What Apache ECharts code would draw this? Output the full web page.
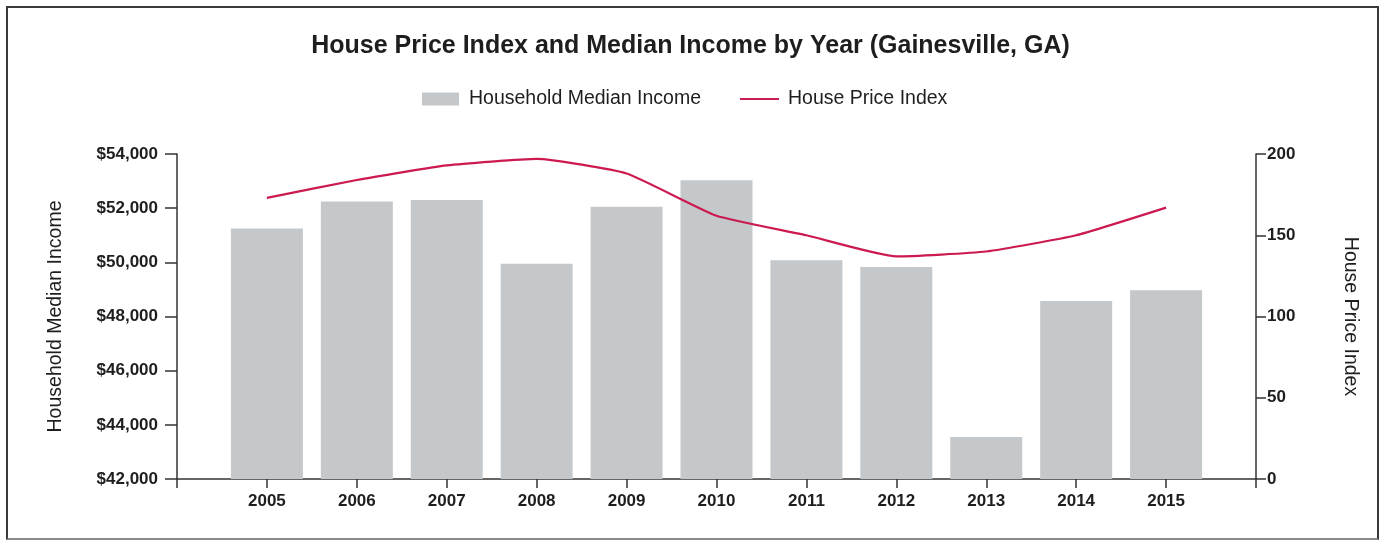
<!DOCTYPE html>
<html>
<head>
<meta charset="utf-8">
<title>House Price Index and Median Income by Year</title>
<script src="https://cdn.jsdelivr.net/npm/echarts@6/dist/echarts.min.js"></script>
<style>
  html, body { margin: 0; padding: 0; background: #fff; }
  #wrap { position: relative; width: 1381px; height: 540px; overflow: hidden; }
  #frame { position: absolute; left: 6px; top: 6px; width: 1373px; height: 534px;
           border: 2px solid #3a3a3a; border-bottom-color: #8a8a8a; box-sizing: border-box; }
  #chart { position: absolute; left: 0; top: 0; width: 1381px; height: 540px; }
</style>
</head>
<body>
<div id="wrap">
  <div id="frame"></div>
  <div id="chart"></div>
</div>
<script>
// Years shown on the x axis
const years = [2005, 2006, 2007, 2008, 2009, 2010, 2011, 2012, 2013, 2014, 2015];
// Household median income, US dollars
const medianIncome = [51250, 52250, 52300, 49950, 52050, 53030, 50080, 49830, 43550, 48570, 48970];
// House price index
const housePriceIndex = [173, 184, 193, 197, 188, 162, 150, 137, 140, 150, 167];

const incomeTicks = { min: 42000, max: 54000, step: 2000 };
const hpiTicks = { min: 0, max: 200, step: 50 };

const FONT = '"Liberation Sans", Arial, Helvetica, sans-serif';
const TEXT_COLOR = '#1e1e1e';
const AXIS_COLOR = '#333';
const BAR_COLOR = '#c4c8cb';
const LINE_COLOR = '#cc1a50';

const chart = echarts.init(document.getElementById('chart'), null, { renderer: 'canvas' });

const money = v => '$' + v.toLocaleString('en-US');
const axisLine = { show: true, lineStyle: { color: AXIS_COLOR, width: 1.5 } };
const tickStyle = { color: AXIS_COLOR, width: 1.5 };

chart.setOption({
  animation: false,
  backgroundColor: 'transparent',
  textStyle: { fontFamily: FONT },
  title: {
    text: 'House Price Index and Median Income by Year (Gainesville, GA)',
    left: 'center',
    top: 29,
    textStyle: { fontFamily: FONT, fontSize: 25, fontWeight: 'bold', color: TEXT_COLOR }
  },
  legend: [
    {
      left: 417,
      top: 84,
      itemWidth: 37,
      itemHeight: 13,
      icon: 'rect',
      textStyle: { fontFamily: FONT, fontSize: 19.5, color: TEXT_COLOR, padding: [0, 0, 0, 5] },
      data: ['Household Median Income']
    },
    {
      left: 735,
      top: 84,
      itemWidth: 39,
      itemHeight: 2,
      icon: 'rect',
      textStyle: { fontFamily: FONT, fontSize: 19.5, color: TEXT_COLOR, padding: [0, 0, 0, 4] },
      data: ['House Price Index']
    }
  ],
  grid: { left: 177, right: 125, top: 154, bottom: 61 },
  xAxis: {
    type: 'value',
    min: years[0] - 1,
    max: years[years.length - 1] + 1,
    interval: 1,
    splitLine: { show: false },
    axisLine: axisLine,
    axisTick: { show: true, length: 9, lineStyle: tickStyle },
    axisLabel: {
      margin: 14,
      fontFamily: FONT, fontSize: 17, fontWeight: 'bold', color: TEXT_COLOR,
      formatter: v => (years.indexOf(v) >= 0 ? String(v) : '')
    }
  },
  yAxis: [
    {
      type: 'value',
      name: 'Household Median Income',
      nameLocation: 'middle',
      nameGap: 111,
      nameTextStyle: { fontFamily: FONT, fontSize: 19.5, color: TEXT_COLOR },
      min: incomeTicks.min,
      max: incomeTicks.max,
      interval: incomeTicks.step,
      splitLine: { show: false },
      axisLine: axisLine,
      axisTick: { show: true, length: 12, lineStyle: tickStyle },
      axisLabel: {
        margin: 19,
        fontFamily: FONT, fontSize: 17, fontWeight: 'bold', color: TEXT_COLOR,
        formatter: money
      }
    },
    {
      type: 'value',
      name: 'House Price Index',
      nameLocation: 'middle',
      nameGap: 84,
      nameRotate: -90,
      nameTextStyle: { fontFamily: FONT, fontSize: 19.5, color: TEXT_COLOR },
      position: 'right',
      min: hpiTicks.min,
      max: hpiTicks.max,
      interval: hpiTicks.step,
      splitLine: { show: false },
      axisLine: axisLine,
      axisTick: { show: true, length: 10, lineStyle: tickStyle },
      axisLabel: {
        margin: 11,
        fontFamily: FONT, fontSize: 17, fontWeight: 'bold', color: TEXT_COLOR
      }
    }
  ],
  series: [
    {
      name: 'Household Median Income',
      type: 'bar',
      yAxisIndex: 0,
      barWidth: 72,
      itemStyle: { color: BAR_COLOR },
      data: years.map((y, i) => [y, medianIncome[i]])
    },
    {
      name: 'House Price Index',
      type: 'line',
      yAxisIndex: 1,
      smooth: 0.15,
      symbol: 'none',
      lineStyle: { color: LINE_COLOR, width: 2.2 },
      itemStyle: { color: LINE_COLOR },
      data: years.map((y, i) => [y, housePriceIndex[i]])
    }
  ]
});
</script>
</body>
</html>
